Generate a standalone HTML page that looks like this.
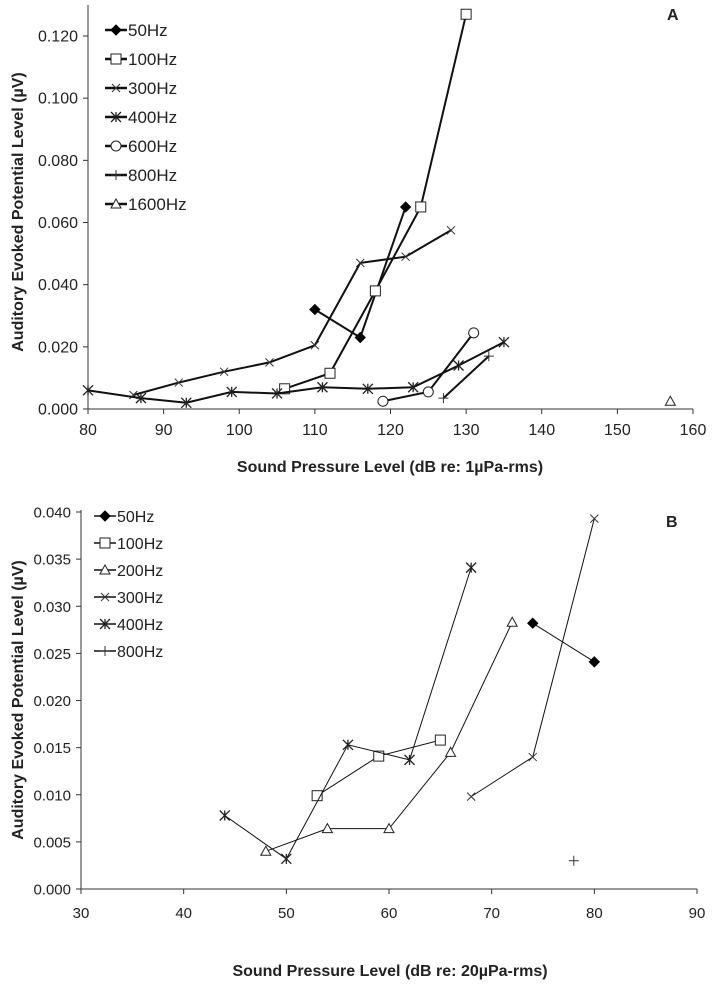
<!DOCTYPE html>
<html><head><meta charset="utf-8"><style>
body{margin:0;background:#fff;font-family:"Liberation Sans",sans-serif}
svg text{font-family:"Liberation Sans",sans-serif;fill:#222}
</style></head><body>
<svg width="713" height="989" xmlns="http://www.w3.org/2000/svg" id="svg"></svg>
<script>
const aXTicks=[80,90,100,110,120,130,140,150,160];
const aYTicks=[0,0.02,0.04,0.06,0.08,0.1,0.12];
const aYLabels=["0.000","0.020","0.040","0.060","0.080","0.100","0.120"];
const aNames=["50Hz","100Hz","300Hz","400Hz","600Hz","800Hz","1600Hz"];
const aMarkers=["diamond","square","x","star","circle","plus","triangle"];
const a50x=[110,116,122], a50y=[0.032,0.023,0.065];
const a100x=[106,112,118,124,130], a100y=[0.0065,0.0115,0.038,0.065,0.127];
const a300x=[86,92,98,104,110,116,122,128], a300y=[0.0045,0.0085,0.012,0.015,0.0205,0.047,0.049,0.0575];
const a400x=[80,87,93,99,105,111,117,123,129,135], a400y=[0.006,0.0035,0.002,0.0055,0.005,0.007,0.0065,0.007,0.014,0.0215];
const a600x=[119,125,131], a600y=[0.0025,0.0055,0.0245];
const a800x=[127,133], a800y=[0.0035,0.017];
const a1600x=[157], a1600y=[0.0025];

const bXTicks=[30,40,50,60,70,80,90];
const bYTicks=[0,0.005,0.01,0.015,0.02,0.025,0.03,0.035,0.04];
const bYLabels=["0.000","0.005","0.010","0.015","0.020","0.025","0.030","0.035","0.040"];
const bNames=["50Hz","100Hz","200Hz","300Hz","400Hz","800Hz"];
const bMarkers=["diamond","square","triangle","x","star","plus"];
const b50x=[74,80], b50y=[0.0282,0.0241];
const b100x=[53,59,65], b100y=[0.0099,0.0141,0.0158];
const b200x=[48,54,60,66,72], b200y=[0.004,0.0064,0.0064,0.0145,0.0283];
const b300x=[68,74,80], b300y=[0.0098,0.014,0.0393];
const b400x=[44,50,56,62,68], b400y=[0.0078,0.0032,0.0153,0.0137,0.0341];
const b800x=[78], b800y=[0.003];

const svg=document.getElementById('svg');
const NS="http://www.w3.org/2000/svg";
function mk(tag,attrs,parent){const e=document.createElementNS(NS,tag);for(const k in attrs)e.setAttribute(k,attrs[k]);(parent||svg).appendChild(e);return e;}
function marker(g,type,x,y,s){
  let e;
  if(type==="diamond"){e=mk('polygon',{points:`${x},${y-s} ${x+s},${y} ${x},${y+s} ${x-s},${y}`,fill:'#000',stroke:'#000'},g);}
  else if(type==="square"){e=mk('rect',{x:x-s,y:y-s,width:2*s,height:2*s,fill:'#fff',stroke:'#222','stroke-width':1},g);}
  else if(type==="circle"){e=mk('circle',{cx:x,cy:y,r:s,fill:'#fff',stroke:'#222','stroke-width':1},g);}
  else if(type==="triangle"){e=mk('polygon',{points:`${x},${y-s} ${x+s},${y+s*0.8} ${x-s},${y+s*0.8}`,fill:'#fff',stroke:'#222','stroke-width':1},g);}
  else if(type==="x"){e=mk('path',{d:`M${x-s*0.8},${y-s*0.8}L${x+s*0.8},${y+s*0.8}M${x-s*0.8},${y+s*0.8}L${x+s*0.8},${y-s*0.8}`,stroke:'#333','stroke-width':1,fill:'none'},g);}
  else if(type==="star"){e=mk('path',{d:`M${x-s},${y-s}L${x+s},${y+s}M${x-s},${y+s}L${x+s},${y-s}M${x},${y-s}L${x},${y+s}`,stroke:'#222','stroke-width':1.3,fill:'none'},g);}
  else {e=mk('path',{d:`M${x-s},${y}L${x+s},${y}M${x},${y-s}L${x},${y+s}`,stroke:'#333','stroke-width':1,fill:'none'},g);}
  
  
}
function panel(cfg){
  const {x0,x1,xmin,xmax,y0,ytop,ymin,yAt}=cfg;
  const sx=v=>x0+(v-xmin)/(xmax-xmin)*(x1-x0);
  const sy=v=>y0-(v-ymin)/(yAt-ymin)*(y0-cfg.yAtPx);
  const g=mk('g',{});
  
  
  const ax=mk('path',{d:`M${x0},${ytop}L${x0},${y0}L${x1},${y0}`,stroke:'#333','stroke-width':1,fill:'none'},g);
  
  
  cfg.xt.forEach(v=>{const X=sx(v);
    mk('line',{x1:X,y1:y0,x2:X,y2:y0+5,stroke:'#333'},g);
    const t=mk('text',{x:X,y:cfg.xtlY,'text-anchor':'middle','font-size':cfg.fs},g);t.textContent=v;
    
    });
  cfg.yt.forEach((v,i)=>{const Y=sy(v);
    mk('line',{x1:x0-5,y1:Y,x2:x0,y2:Y,stroke:'#333'},g);
    const t=mk('text',{x:x0-10,y:Y+5.5,'text-anchor':'end','font-size':cfg.fs},g);t.textContent=cfg.yl[i];
    
    });
  cfg.series.forEach((s,i)=>{
    const sg=mk('g',{},g);
    
    
    if(s[0].length>1){const d=s[0].map((v,j)=>(j?'L':'M')+sx(v)+','+sy(s[1][j])).join('');
      mk('path',{d:d,stroke:'#111','stroke-width':cfg.lw,fill:'none'},sg);}
    s[0].forEach((v,j)=>marker(sg,cfg.markers[i],sx(v),sy(s[1][j]),cfg.ms));
    const ly=cfg.legY[i];
    const lg=mk('g',{},g);
    
    
    mk('line',{x1:cfg.legX,y1:ly,x2:cfg.legX+22,y2:ly,stroke:'#111','stroke-width':cfg.lw+0.5},lg);
    marker(lg,cfg.markers[i],cfg.legX+11,ly,cfg.ms);
    const t=mk('text',{x:cfg.legX+23,y:ly+6,'font-size':cfg.lfs},lg);t.textContent=cfg.names[i];
  });
  const tl=mk('text',{x:cfg.tagX,y:cfg.tagY,'font-size':16,'font-weight':'bold'},g);tl.textContent=cfg.tag;
  
  
  const xt=mk('text',{x:cfg.xtx,y:cfg.xty,'text-anchor':'middle','font-size':16,'font-weight':'bold'},g);xt.textContent=cfg.xtitle;
  
  
  const yt=mk('text',{x:0,y:0,'text-anchor':'middle','font-size':16,'font-weight':'bold',transform:`translate(${cfg.ytx},${cfg.yty}) rotate(-90)`},g);yt.textContent="Auditory Evoked Potential Level (µV)";
  
  
}
panel({id:'panel-a',x0:88,x1:693,xmin:80,xmax:160,y0:409,ytop:5,ymin:0,yAt:0.12,yAtPx:36,
  xt:aXTicks,yt:aYTicks,yl:aYLabels,fs:16,lw:2,ms:5,names:aNames,markers:aMarkers,xtlY:435,
  series:[[a50x,a50y],[a100x,a100y],[a300x,a300y],[a400x,a400y],[a600x,a600y],[a800x,a800y],[a1600x,a1600y]],
  legX:105,legY:[30,59,88,117,146,175,204],lfs:17,tag:'A',tagX:667,tagY:20,
  xtitle:'Sound Pressure Level (dB re: 1µPa-rms)',xtx:390,xty:472,ytx:23,yty:212});
panel({id:'panel-b',x0:81,x1:697,xmin:30,xmax:90,y0:889,ytop:510,ymin:0,yAt:0.04,yAtPx:512,
  xt:bXTicks,yt:bYTicks,yl:bYLabels,fs:15,lw:1,ms:5,names:bNames,markers:bMarkers,xtlY:918,
  series:[[b50x,b50y],[b100x,b100y],[b200x,b200y],[b300x,b300y],[b400x,b400y],[b800x,b800y]],
  legX:94,legY:[516,543,570,597,624,651],lfs:16,tag:'B',tagX:666,tagY:527,
  xtitle:'Sound Pressure Level (dB re: 20µPa-rms)',xtx:390,xty:976,ytx:23,yty:700});
</script>
</body></html>
